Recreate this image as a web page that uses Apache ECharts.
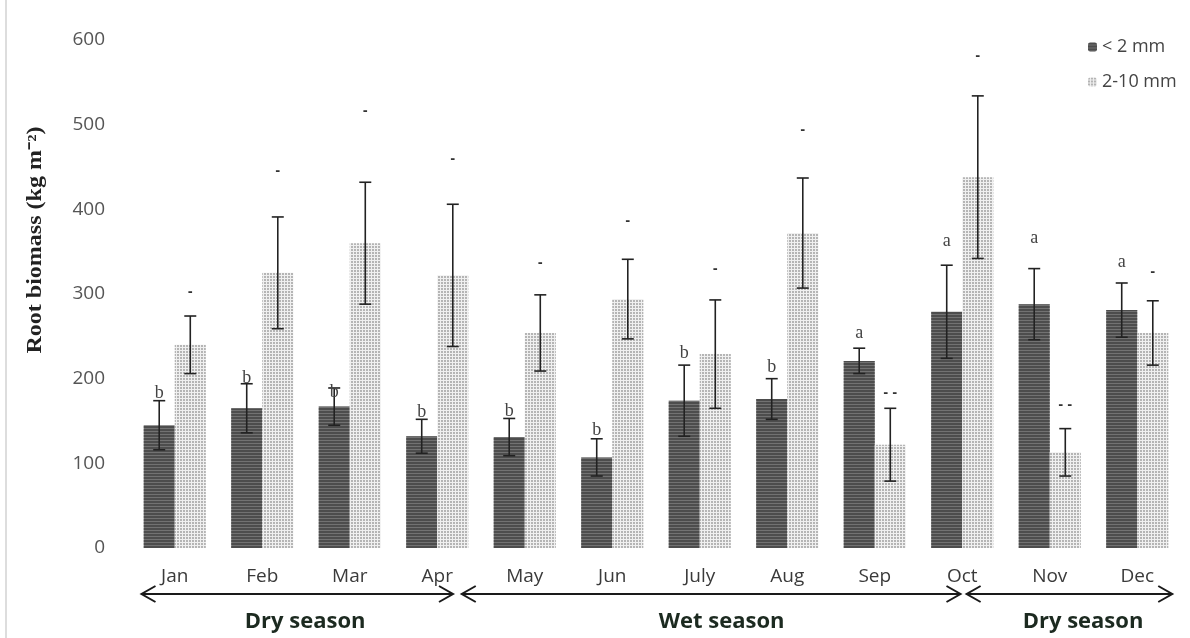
<!DOCTYPE html>
<html><head><meta charset="utf-8">
<script src="https://cdn.jsdelivr.net/npm/echarts@6/dist/echarts.min.js"></script>
<style>html,body{margin:0;padding:0;background:#fff}#c{width:1190px;height:638px}</style>
</head><body><div id="c"></div>
<script>
const months = ['Jan','Feb','Mar','Apr','May','Jun','July','Aug','Sep','Oct','Nov','Dec'];
const fineMean = [145,165,167,132,131,107,174,176,221,279,288,281];
const fineErr  = [29,29,22,20,22,22,42,24,15,55,42,32];
const coarseMean = [240,325,360,322,254,294,229,372,122,438,113,254];
const coarseErr  = [34,66,72,84,45,47,64,65,43,96,28,38];
const fineLetters = ['b','b','b','b','b','b','b','b','a','a','a','a'];
const fineLetterY = [183,201,184,160,162,139,230,214,254,362,366,337];
const coarseMarks = ['-','-','-','-','-','-','-','-','- -','-','- -','-'];
const coarseMarkY = [301,444,515,458,335,385,328,493,182,580,168,325];
const yTicks = [0,100,200,300,400,500,600];
const seasons = [
  {name:'Dry season', from:-0.38, to:3.18, label:1.49},
  {name:'Wet season', from:3.28, to:8.98, label:6.25},
  {name:'Dry season', from:9.05, to:11.4, label:10.38}
];

const GL = 131, GR = 9, GT = 40, GB = 90, W = 1190, H = 638;
const bandW = (W - GL - GR) / months.length;
const catGap = 0.29;
const xOf = i => GL + (i + 0.5) * bandW;

const chart = echarts.init(document.getElementById('c'), null, {renderer:'canvas'});

function errSeries(name, means, errs, texts, textY, side, textStyle) {
  return {
    type:'custom', name: name + '_err', z: 10, silent:true,
    data: means.map((m,i)=>[i, m, errs[i]]),
    encode:{x:0, y:1},
    renderItem(params, api) {
      const i = api.value(0), m = api.value(1), e = api.value(2);
      const bw = api.size([1,0])[0] * (1 - catGap) / 2;
      const cx = api.coord([i, m])[0] + side * bw / 2;
      const yt = api.coord([i, m + e])[1];
      const yb = api.coord([i, m - e])[1];
      const cap = 6;
      const ls = {stroke:'#222', lineWidth:1.6};
      const ty = api.coord([i, textY[params.dataIndex]])[1];
      return {type:'group', children:[
        {type:'line', shape:{x1:cx,y1:yt,x2:cx,y2:yb}, style:ls},
        {type:'line', shape:{x1:cx-cap,y1:yt,x2:cx+cap,y2:yt}, style:ls},
        {type:'line', shape:{x1:cx-cap,y1:yb,x2:cx+cap,y2:yb}, style:ls},
        {type:'text', x:cx, y:ty, style:Object.assign({text:texts[params.dataIndex], align:'center', verticalAlign:'middle'}, textStyle)}
      ]};
    }
  };
}

const seasonGraphics = [];
seasons.forEach(s => {
  const x1 = xOf(s.from), x2 = xOf(s.to), y = 594;
  const ls = {stroke:'#1a1a1a', lineWidth:2};
  seasonGraphics.push({type:'line', shape:{x1:x1,y1:y,x2:x2,y2:y}, style:ls});
  seasonGraphics.push({type:'polyline', shape:{points:[[x1+14,y-8],[x1,y],[x1+14,y+8]]}, style:Object.assign({fill:null}, ls)});
  seasonGraphics.push({type:'polyline', shape:{points:[[x2-14,y-8],[x2,y],[x2-14,y+8]]}, style:Object.assign({fill:null}, ls)});
  seasonGraphics.push({type:'text', x:xOf(s.label), y:622, style:{text:s.name, font:'bold 22px "Open Sans"', fill:'#1c2a20', align:'center', verticalAlign:'middle'}});
});

const option = {
  animation:false,
  backgroundColor:'#fff',
  grid:{left:GL, right:GR, top:GT, bottom:GB},
  legend:{
    orient:'vertical', left:1083, top:33, itemWidth:9, itemHeight:9, itemGap:17,
    textStyle:{fontFamily:'Open Sans', fontSize:18, color:'#444'},
    data:['< 2 mm','2-10 mm']
  },
  xAxis:{
    type:'category', data:months,
    axisLine:{show:false}, axisTick:{show:false},
    axisLabel:{margin:19, fontFamily:'Open Sans', fontSize:19, color:'#3a3a3a'}
  },
  yAxis:{
    type:'value', min:yTicks[0], max:yTicks[yTicks.length-1], interval:100,
    axisLine:{show:false}, axisTick:{show:false}, splitLine:{show:false},
    axisLabel:{margin:26, fontFamily:'Open Sans', fontSize:19, color:'#555'}
  },
  series:[
    {name:'< 2 mm', type:'bar', data:fineMean, barGap:'0%', barCategoryGap:(catGap*100)+'%',
     itemStyle:{color:'#727272', decal:{symbol:'rect', symbolSize:1, dashArrayX:[[1,0]], dashArrayY:[2,1], color:'rgba(40,40,40,0.5)', rotation:0}}},
    {name:'2-10 mm', type:'bar', data:coarseMean,
     itemStyle:{color:'#f0f0f0', decal:{symbol:'circle', symbolSize:0.9, dashArrayX:[[2,1]], dashArrayY:[2,1], color:'#999', rotation:0}}},
    errSeries('fine', fineMean, fineErr, fineLetters, fineLetterY, -1, {font:'18px "Liberation Serif"', fill:'#444'}),
    errSeries('coarse', coarseMean, coarseErr, coarseMarks, coarseMarkY, 1, {font:'bold 12px "DejaVu Sans"', fill:'#333'})
  ],
  graphic:[
    {type:'line', shape:{x1:6,y1:0,x2:6,y2:H}, style:{stroke:'#bbb', lineWidth:1}},
    {type:'text', x:36, y:240, rotation:Math.PI/2, scaleX:1.2,
     style:{text:'Root biomass (kg m⁻²)', font:'bold 20px "Liberation Serif"', fill:'#222', align:'center', verticalAlign:'middle'}}
  ].concat(seasonGraphics)
};
chart.setOption(option);
</script></body></html>
